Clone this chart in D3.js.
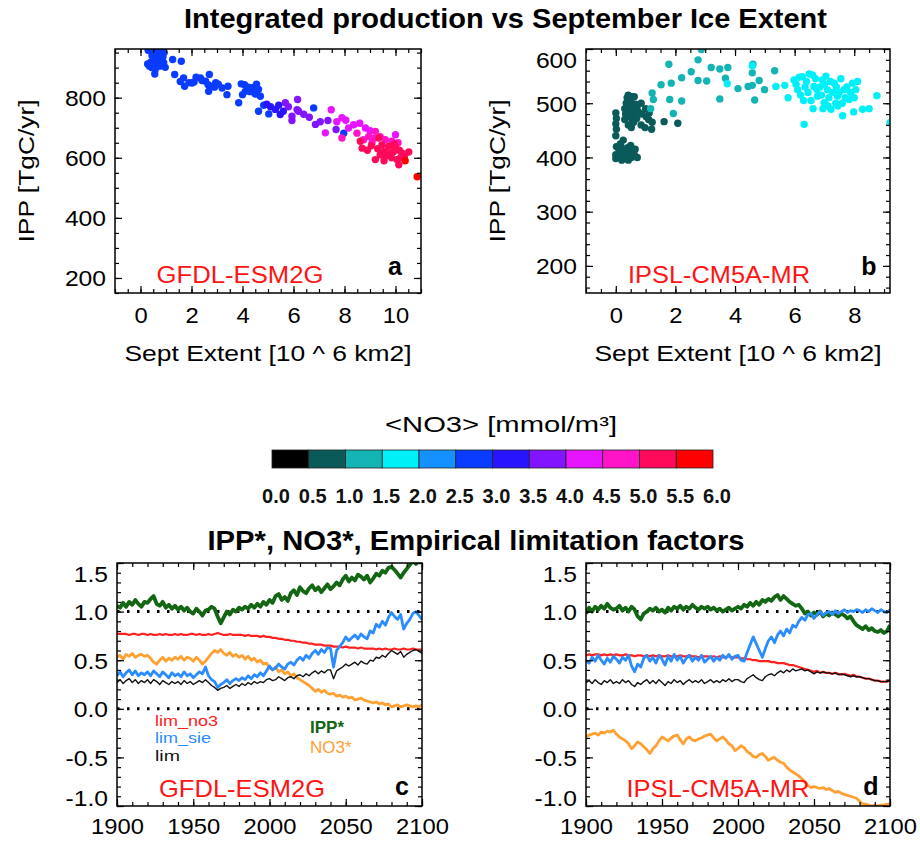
<!DOCTYPE html>
<html><head><meta charset="utf-8">
<script src="https://cdn.jsdelivr.net/npm/d3@7"></script>
<style>
body{margin:0;background:#fff;}
svg{display:block;font-family:"Liberation Sans",Arial,Helvetica,sans-serif;}
</style></head><body>
<svg id="chart" width="920" height="843"></svg>
<script>
// ---------------- DATA ----------------
const no3Bins = [0.0,0.5,1.0,1.5,2.0,2.5,3.0,3.5,4.0,4.5,5.0,5.5,6.0];
const no3Colors = ["#000000","#0a5a5a","#14b4b4","#00f0f8","#1490ff","#0a3cff","#2814ff","#8214ff","#e614ff","#ff14c8","#ff0a5a","#ff0000"];

// [Sept extent (10^6 km2), IPP (TgC/yr), <NO3> (mmol/m3)]
const gfdlScatter = [
 [0.30,958,2.7],[0.42,955,2.7],[0.55,960,2.7],[0.62,952,2.7],[0.72,957,2.7],[0.84,958,2.7],[0.93,950,2.7],
 [0.28,912,2.7],[0.35,905,2.7],[0.40,918,2.7],[0.45,900,2.7],[0.50,925,2.7],[0.55,910,2.7],[0.58,895,2.7],
 [0.65,927,2.7],[0.70,915,2.7],[0.75,905,2.7],[0.78,932,2.7],[0.85,912,2.7],[0.91,916,2.7],[0.97,901,2.7],
 [0.56,879,2.7],[0.45,940,2.7],[0.68,940,2.7],[0.88,935,2.7],
 [1.26,927,2.7],[1.60,921,2.7],[1.34,877,2.7],[1.56,854,2.7],[1.69,866,2.7],[1.73,838,2.7],[2.02,849,2.7],
 [2.18,868,2.7],[2.35,866,2.7],[2.41,857,2.7],[2.70,877,2.7],[2.65,843,2.7],[2.67,821,2.7],[2.80,838,2.7],
 [2.90,835,2.7],[3.20,832,2.7],[3.43,838,2.7],[3.39,810,2.7],[3.85,783,2.7],[3.95,846,2.7],[4.08,843,2.7],
 [4.11,821,2.7],[4.24,835,2.7],[4.44,835,2.7],[4.50,812,2.7],[4.63,827,2.7],[4.70,805,2.7],[4.83,775,2.7],
 [4.63,755,2.7],[5.03,746,2.7],[2.55,855,2.7],[2.95,850,2.7],[1.90,850,2.7],[2.10,852,2.7],[3.05,845,2.7],
 [4.30,820,2.7],[4.55,845,2.7],[4.00,810,2.7],
 [5.29,761,3.2],[5.42,775,3.2],[5.48,744,3.2],[5.10,770,3.2],[5.60,755,3.2],[4.95,778,3.2],
 [5.68,783,3.7],[5.94,724,3.7],[5.94,738,3.7],[6.16,794,3.7],[6.20,755,3.7],[6.14,760,3.7],[6.62,735,3.7],
 [6.86,711,3.7],[7.35,724,3.7],[7.67,694,3.7],[6.40,745,3.7],[7.05,720,3.7],[5.80,770,3.7],
 [6.79,766,2.7],[7.97,682,2.7],
 [7.25,683,4.2],[7.48,760,4.2],[7.90,733,4.2],[8.16,699,4.2],[8.36,710,4.2],[8.82,699,4.2],[10.00,677,4.2],
 [7.70,720,4.2],[8.05,725,4.2],[8.60,715,4.2],[9.00,690,4.2],
 [7.90,666,4.7],[8.49,682,4.7],[8.95,671,4.7],[9.08,649,4.7],[9.21,688,4.7],[9.86,655,4.7],[9.40,670,4.7],
 [9.60,660,4.7],[8.75,660,4.7],[9.15,665,4.7],[10.10,650,4.7],
 [8.62,655,5.2],[9.34,666,5.2],[9.47,643,5.2],[8.69,632,5.2],[9.21,594,5.2],[9.54,621,5.2],[9.60,605,5.2],
 [9.73,638,5.2],[9.93,621,5.2],[10.06,594,5.2],[10.13,577,5.2],[10.25,616,5.2],[10.52,619,5.2],[9.30,630,5.2],
 [9.70,615,5.2],[9.85,600,5.2],[10.00,635,5.2],[10.20,600,5.2],[10.35,605,5.2],[9.40,610,5.2],[9.05,640,5.2],
 [9.95,645,5.2],[10.15,625,5.2],[8.90,625,5.2],[9.55,590,5.2],
 [10.38,590,5.7],[10.85,537,5.7]
];

const ipslScatter = [
 [0.00,398,0.7],[0.00,405,0.7],[0.02,420,0.7],[0.00,440,0.7],[0.02,452,0.7],[0.00,462,0.7],[0.02,472,0.7],[0.00,482,0.7],
 [0.12,402,0.7],[0.10,415,0.7],[0.15,425,0.7],[0.20,395,0.7],[0.22,410,0.7],[0.18,420,0.7],[0.25,432,0.7],
 [0.30,398,0.7],[0.32,405,0.7],[0.35,412,0.7],[0.30,470,0.7],[0.33,480,0.7],[0.30,490,0.7],[0.35,500,0.7],[0.38,510,0.7],
 [0.42,395,0.7],[0.45,408,0.7],[0.40,418,0.7],[0.42,460,0.7],[0.45,475,0.7],[0.40,485,0.7],[0.44,495,0.7],[0.46,505,0.7],[0.42,515,0.7],
 [0.52,400,0.7],[0.55,410,0.7],[0.50,422,0.7],[0.52,455,0.7],[0.55,470,0.7],[0.50,480,0.7],[0.55,490,0.7],[0.52,500,0.7],[0.56,512,0.7],
 [0.62,405,0.7],[0.65,415,0.7],[0.60,465,0.7],[0.63,478,0.7],[0.60,488,0.7],[0.66,498,0.7],[0.62,512,0.7],
 [0.72,400,0.7],[0.70,472,0.7],[0.75,485,0.7],[0.72,495,0.7],
 [0.85,460,0.7],[0.88,480,0.7],[0.85,500,0.7],[1.00,490,0.7],[1.02,475,0.7],[0.98,455,0.7],[1.10,470,0.7],[1.12,482,0.7],
 [1.20,452,0.7],[1.22,465,0.7],[1.62,466,0.7],[2.08,463,0.7],
 [1.22,519,1.2],[1.26,507,1.2],[1.17,490,1.2],[1.52,534,1.2],[1.78,572,1.2],[1.86,537,1.2],[1.81,507,1.2],[1.93,481,1.2],
 [2.21,547,1.2],[2.21,504,1.2],[2.53,558,1.2],[2.76,580,1.2],[2.87,599,1.2],[2.76,542,1.2],[3.05,541,1.2],[3.20,566,1.2],
 [3.49,563,1.2],[3.76,566,1.2],[3.68,546,1.2],[3.49,508,1.2],[4.10,527,1.2],[4.44,531,1.2],[4.58,556,1.2],[4.58,533,1.2],
 [4.81,542,1.2],[4.66,506,1.2],[4.99,525,1.2],[5.33,560,1.2],[4.60,572,1.2],
 [3.74,536,1.7],[4.58,569,1.7],[5.37,531,1.7],[5.67,533,1.7],[5.78,510,1.7],[5.98,543,1.7],[6.10,525,1.7],[6.26,549,1.7],
 [6.32,461,1.7],[6.49,554,1.7],[6.60,552,1.7],[6.65,531,1.7],[6.77,513,1.7],[6.93,543,1.7],[6.99,501,1.7],[7.10,525,1.7],
 [7.22,489,1.7],[7.33,537,1.7],[7.44,513,1.7],[7.61,477,1.7],[7.66,525,1.7],[7.83,507,1.7],[7.94,537,1.7],[7.98,484,1.7],
 [8.11,540,1.7],[8.28,489,1.7],[8.50,490,1.7],[8.76,514,1.7],[9.20,464,1.7],
 [6.05,535,1.7],[6.15,548,1.7],[6.20,515,1.7],[6.35,530,1.7],[6.40,540,1.7],[6.45,520,1.7],[6.55,505,1.7],[6.70,545,1.7],
 [6.75,525,1.7],[6.85,530,1.7],[6.90,515,1.7],[7.00,535,1.7],[7.05,550,1.7],[7.15,510,1.7],[7.20,540,1.7],[7.28,520,1.7],
 [7.38,500,1.7],[7.40,530,1.7],[7.50,520,1.7],[7.55,545,1.7],[7.70,510,1.7],[7.75,530,1.7],[7.88,520,1.7],[8.00,510,1.7],
 [7.12,495,1.7],[6.95,490,1.7],[7.45,495,1.7],[8.05,525,1.7],[7.60,500,1.7],[6.62,490,1.7],[6.30,505,1.7]
];

// time series, every 2 years 1900..2100
const years = d3.range(1900, 2101, 2);

const gfdlIPP = [1.06,1.04,1.09,1.05,1.10,1.07,1.12,1.08,1.05,1.10, 1.09,1.13,1.16,1.08,1.06,1.10,1.04,1.07,1.03,1.06,
 1.02,1.05,1.01,1.04,1.00,0.98,1.03,1.00,0.96,1.01, 1.02,1.05,1.03,0.95,0.88,0.94,1.00,0.97,1.02,1.00,
 1.04,1.02,1.05,1.03,1.07,1.04,1.08,1.05,1.10,1.07, 1.12,1.09,1.16,1.18,1.12,1.15,1.11,1.19,1.22,1.17,
 1.25,1.21,1.19,1.24,1.27,1.22,1.25,1.20,1.24,1.28, 1.23,1.26,1.30,1.27,1.33,1.37,1.31,1.35,1.32,1.38,
 1.36,1.33,1.37,1.30,1.34,1.39,1.37,1.42,1.40,1.45, 1.46,1.43,1.39,1.35,1.40,1.44,1.48,1.52,1.49,1.53, 1.50];
const gfdlLimNO3 = [0.77,0.77,0.77,0.77,0.76,0.77,0.77,0.76,0.77,0.77, 0.76,0.77,0.76,0.76,0.77,0.76,0.77,0.76,0.76,0.77,
 0.76,0.77,0.76,0.76,0.77,0.77,0.76,0.77,0.76,0.76, 0.77,0.76,0.77,0.78,0.77,0.76,0.76,0.77,0.76,0.76,
 0.76,0.76,0.75,0.76,0.75,0.75,0.75,0.74,0.75,0.74, 0.74,0.73,0.73,0.72,0.72,0.71,0.71,0.70,0.70,0.69,
 0.69,0.68,0.68,0.67,0.67,0.66,0.66,0.66,0.65,0.65, 0.65,0.64,0.64,0.64,0.63,0.64,0.63,0.63,0.63,0.62,
 0.63,0.62,0.62,0.62,0.62,0.61,0.62,0.61,0.62,0.61, 0.61,0.62,0.61,0.61,0.62,0.61,0.61,0.62,0.61,0.61, 0.61];
const gfdlLimSIE = [0.34,0.38,0.33,0.37,0.40,0.35,0.39,0.34,0.37,0.35, 0.38,0.34,0.39,0.36,0.33,0.38,0.35,0.32,0.37,0.34,
 0.36,0.33,0.38,0.34,0.36,0.32,0.35,0.38,0.36,0.43, 0.34,0.30,0.28,0.22,0.25,0.27,0.30,0.26,0.29,0.31,
 0.29,0.32,0.30,0.34,0.31,0.35,0.33,0.37,0.34,0.39, 0.44,0.40,0.42,0.46,0.43,0.41,0.46,0.48,0.45,0.50,
 0.53,0.50,0.55,0.52,0.57,0.60,0.56,0.61,0.58,0.63, 0.62,0.43,0.60,0.64,0.68,0.74,0.70,0.73,0.76,0.72,
 0.77,0.74,0.72,0.80,0.78,0.87,0.84,0.90,0.86,0.94, 0.99,0.95,0.92,0.97,0.82,0.88,0.92,0.98,1.00,0.96, 0.92];
const gfdlLim = [0.27,0.30,0.26,0.29,0.31,0.27,0.30,0.26,0.29,0.27, 0.30,0.26,0.30,0.28,0.25,0.29,0.27,0.25,0.28,0.26,
 0.28,0.25,0.29,0.26,0.28,0.25,0.27,0.29,0.27,0.30, 0.27,0.24,0.22,0.19,0.21,0.22,0.24,0.21,0.23,0.25,
 0.23,0.26,0.24,0.27,0.25,0.28,0.26,0.28,0.27,0.30, 0.31,0.29,0.30,0.33,0.31,0.29,0.32,0.33,0.31,0.34,
 0.35,0.33,0.36,0.34,0.37,0.39,0.36,0.39,0.37,0.40, 0.40,0.31,0.39,0.41,0.43,0.46,0.44,0.46,0.48,0.45,
 0.49,0.47,0.46,0.50,0.49,0.53,0.52,0.55,0.53,0.57, 0.60,0.58,0.56,0.59,0.53,0.56,0.58,0.60,0.61,0.59, 0.57];
const gfdlNO3 = [0.53,0.55,0.51,0.56,0.54,0.57,0.53,0.55,0.56,0.54, 0.55,0.52,0.48,0.46,0.50,0.53,0.49,0.52,0.50,0.53,
 0.51,0.54,0.50,0.53,0.52,0.49,0.53,0.50,0.46,0.49, 0.53,0.57,0.60,0.58,0.61,0.57,0.55,0.58,0.54,0.56,
 0.53,0.55,0.51,0.54,0.50,0.52,0.48,0.50,0.46,0.47, 0.42,0.40,0.43,0.38,0.40,0.36,0.38,0.34,0.36,0.32,
 0.30,0.28,0.26,0.24,0.21,0.18,0.20,0.17,0.19,0.16, 0.15,0.16,0.13,0.14,0.12,0.13,0.11,0.12,0.09,0.10,
 0.11,0.09,0.08,0.07,0.06,0.07,0.05,0.06,0.04,0.05, 0.02,0.03,0.04,0.02,0.03,0.04,0.03,0.02,0.03,0.02, 0.04];

const ipslIPP = [0.98,1.04,1.00,1.05,1.02,1.06,1.03,1.08,1.04,1.02, 1.03,1.06,1.01,1.04,1.00,1.05,1.02,0.95,0.92,0.98,
 1.00,1.03,1.01,1.04,1.00,1.02,0.99,1.04,1.01,1.05, 1.03,1.06,1.02,1.05,1.03,1.07,1.04,1.02,1.05,1.03,
 1.05,1.02,1.04,1.01,1.03,1.00,1.02,1.04,1.01,1.03, 1.05,1.03,1.07,1.05,1.09,1.06,1.10,1.07,1.12,1.10,
 1.13,1.11,1.15,1.17,1.12,1.16,1.13,1.10,1.08,1.06, 1.07,1.03,0.98,1.00,0.96,0.99,0.97,1.00,0.95,0.98,
 0.96,0.99,0.97,0.95,0.98,0.96,0.93,0.95,0.90,0.86, 0.84,0.82,0.85,0.81,0.83,0.80,0.79,0.81,0.78,0.80, 0.86];
const ipslLimSIE = [0.50,0.47,0.53,0.49,0.55,0.50,0.46,0.52,0.48,0.54, 0.51,0.47,0.53,0.50,0.55,0.44,0.38,0.46,0.43,0.52,
 0.55,0.49,0.53,0.47,0.55,0.51,0.45,0.54,0.49,0.56, 0.50,0.54,0.47,0.52,0.55,0.49,0.53,0.50,0.55,0.48,
 0.51,0.54,0.49,0.53,0.50,0.55,0.52,0.56,0.51,0.54, 0.55,0.50,0.49,0.58,0.66,0.74,0.67,0.60,0.53,0.62,
 0.70,0.74,0.68,0.76,0.80,0.75,0.82,0.78,0.86,0.84, 0.90,0.94,0.91,0.97,0.98,0.93,0.97,1.00,0.96,0.99,
 1.00,0.97,1.01,0.98,1.00,1.02,0.99,1.01,1.00,1.02, 1.01,0.99,1.02,1.00,1.03,1.01,0.99,1.02,1.00,0.99, 1.02];
const ipslLimNO3 = [0.55,0.56,0.55,0.56,0.56,0.55,0.56,0.55,0.56,0.55, 0.56,0.55,0.55,0.56,0.55,0.55,0.54,0.55,0.55,0.54,
 0.55,0.54,0.55,0.54,0.55,0.54,0.54,0.55,0.54,0.54, 0.54,0.55,0.54,0.54,0.55,0.54,0.54,0.53,0.54,0.54,
 0.54,0.53,0.54,0.53,0.54,0.53,0.53,0.54,0.53,0.53, 0.53,0.52,0.52,0.51,0.51,0.50,0.50,0.49,0.49,0.49,
 0.49,0.48,0.48,0.47,0.47,0.47,0.46,0.45,0.45,0.44, 0.43,0.42,0.41,0.40,0.39,0.38,0.39,0.37,0.38,0.37,
 0.37,0.36,0.37,0.36,0.35,0.36,0.35,0.34,0.35,0.33, 0.33,0.32,0.31,0.31,0.30,0.29,0.29,0.28,0.28,0.28, 0.29];
const ipslLim = [0.27,0.29,0.26,0.30,0.27,0.25,0.29,0.27,0.30,0.26, 0.28,0.26,0.30,0.27,0.29,0.25,0.23,0.27,0.25,0.28,
 0.30,0.26,0.29,0.26,0.30,0.27,0.24,0.28,0.26,0.30, 0.27,0.29,0.25,0.28,0.30,0.27,0.29,0.27,0.30,0.26,
 0.28,0.30,0.27,0.29,0.27,0.30,0.28,0.31,0.28,0.30, 0.30,0.28,0.27,0.31,0.33,0.35,0.32,0.30,0.29,0.33,
 0.35,0.36,0.34,0.37,0.39,0.37,0.40,0.38,0.41,0.39, 0.40,0.41,0.39,0.40,0.38,0.36,0.38,0.37,0.38,0.37,
 0.37,0.36,0.37,0.35,0.36,0.35,0.34,0.33,0.34,0.33, 0.33,0.32,0.31,0.31,0.30,0.29,0.29,0.28,0.28,0.28, 0.29];
const ipslNO3 = [-0.29,-0.27,-0.26,-0.25,-0.27,-0.24,-0.25,-0.23,-0.24,-0.22, -0.26,-0.29,-0.31,-0.33,-0.36,-0.41,-0.38,-0.34,-0.36,-0.39,
 -0.42,-0.46,-0.41,-0.38,-0.33,-0.29,-0.31,-0.33,-0.30,-0.28, -0.27,-0.32,-0.36,-0.31,-0.29,-0.32,-0.33,-0.31,-0.30,-0.28,
 -0.27,-0.26,-0.30,-0.33,-0.31,-0.29,-0.32,-0.36,-0.38,-0.43, -0.41,-0.38,-0.40,-0.44,-0.46,-0.49,-0.50,-0.47,-0.46,-0.49,
 -0.53,-0.51,-0.50,-0.53,-0.55,-0.56,-0.60,-0.63,-0.65,-0.67, -0.69,-0.72,-0.75,-0.79,-0.81,-0.80,-0.81,-0.82,-0.81,-0.83,
 -0.82,-0.84,-0.86,-0.85,-0.87,-0.88,-0.89,-0.90,-0.91,-0.92, -0.95,-0.98,-0.98,-0.99,-1.00,-0.99,-1.00,-0.99,-0.99,-0.98, -0.98];

const seriesNames = ["IPP*","NO3*","lim_no3","lim_sie","lim"];
const seriesColors = {"IPP*":"#136613","NO3*":"#ffa033","lim_no3":"#ff2020","lim_sie":"#2a8cff","lim":"#111111"};

// ---------------- DRAWING ----------------
const svg = d3.select("#chart");
const colorScale = d3.scaleThreshold().domain(no3Bins.slice(1,-1)).range(no3Colors);
const fmtHyphen = f => (d => f(d).replace("\u2212","-"));

function stretch(sel, k){
  sel.each(function(){
    const L = this.getComputedTextLength();
    if (L > 0) d3.select(this).attr("textLength", L*k).attr("lengthAdjust","spacingAndGlyphs");
  });
}
function label(g, txt, x, y, o){
  const t = g.append("text").attr("x",x).attr("y",y).text(txt)
    .attr("font-size",o.size).attr("fill",o.fill||"#000")
    .attr("text-anchor",o.anchor||"middle")
    .attr("font-weight",o.bold?"bold":"normal");
  if (o.len) t.attr("textLength",o.len).attr("lengthAdjust","spacingAndGlyphs");
  if (o.transform) t.attr("transform",o.transform);
  return t;
}

let clipId = 0;
function panel(o){
  const g = svg.append("g");
  const x = d3.scaleLinear().domain(o.xDomain).range([o.left,o.right]);
  const y = d3.scaleLinear().domain(o.yDomain).range([o.bottom,o.top]);
  const id = "clip"+(clipId++);
  g.append("clipPath").attr("id",id).append("rect")
    .attr("x",o.left).attr("y",o.top).attr("width",o.right-o.left).attr("height",o.bottom-o.top);
  const plot = g.append("g").attr("clip-path",`url(#${id})`);

  const clean = s => { s.select(".domain").remove(); s.attr("font-size",null).attr("font-family",null);
    s.selectAll("line").attr("stroke-width",1.2); };
  g.append("g").attr("transform",`translate(0,${o.bottom})`).call(d3.axisBottom(x).tickValues(o.xMinor).tickSize(-4).tickFormat("")).call(clean);
  g.append("g").attr("transform",`translate(0,${o.top})`).call(d3.axisTop(x).tickValues(o.xMinor).tickSize(-4).tickFormat("")).call(clean);
  g.append("g").attr("transform",`translate(${o.left},0)`).call(d3.axisLeft(y).tickValues(o.yMinor).tickSize(-4).tickFormat("")).call(clean);
  g.append("g").attr("transform",`translate(${o.right},0)`).call(d3.axisRight(y).tickValues(o.yMinor).tickSize(-4).tickFormat("")).call(clean);
  g.append("g").attr("transform",`translate(0,${o.top})`).call(d3.axisTop(x).tickValues(o.xMajor).tickSize(-7).tickFormat("")).call(clean);
  g.append("g").attr("transform",`translate(${o.right},0)`).call(d3.axisRight(y).tickValues(o.yMajor).tickSize(-7).tickFormat("")).call(clean);
  const xa = g.append("g").attr("transform",`translate(0,${o.bottom})`)
    .call(d3.axisBottom(x).tickValues(o.xMajor).tickSize(-7).tickFormat(o.xFmt)).call(clean);
  xa.selectAll("text").attr("y",o.xLabelDy).attr("dy",null).attr("font-size",22).attr("fill","#000");
  stretch(xa.selectAll("text"),1.08);
  const ya = g.append("g").attr("transform",`translate(${o.left},0)`)
    .call(d3.axisLeft(y).tickValues(o.yMajor).tickSize(-7).tickPadding(9).tickFormat(o.yFmt)).call(clean);
  ya.selectAll("text").attr("font-size",22).attr("fill","#000").attr("dy","0.36em")
    .attr("transform", d => {
      const py = y(d);
      if (py - o.top < 4) return "translate(0,11)";
      if (o.bottom - py < 4) return "translate(0,-8)";
      return null;
    });
  stretch(ya.selectAll("text"),1.12);
  g.append("rect").attr("x",o.left).attr("y",o.top).attr("width",o.right-o.left).attr("height",o.bottom-o.top)
    .attr("fill","none").attr("stroke","#000").attr("stroke-width",1.5);
  return {g, plot, x, y};
}

// Titles
label(svg,"Integrated production vs September Ice Extent",505.5,28,{size:27,bold:true,len:643});
label(svg,"IPP*, NO3*, Empirical limitation factors",476,550,{size:27,bold:true,len:537});

// ---- scatter panels ----
function scatterPanel(o, pts, model, letter, modelX, letterX){
  const p = panel(Object.assign({
    xFmt: d3.format("d"), yFmt: d3.format("d"), xLabelDy: 30
  }, o));
  p.plot.selectAll("circle").data(pts).join("circle")
    .attr("cx", d => p.x(d[0])).attr("cy", d => p.y(d[1])).attr("r",3.7)
    .attr("fill", d => colorScale(d[2]));
  label(p.g, model, modelX, 283, {size:23, fill:"#ff1414", len: model.length>10?182:167});
  label(p.g, letter, letterX, 275, {size:25, bold:true});
  const cx = (o.left+o.right)/2;
  label(p.g, "Sept Extent [10 ^ 6 km2]", cx, 361, {size:22, len:287});
  label(p.g, "IPP [TgC/yr]", 0, 0, {size:22, len:143, transform:`translate(${o.left-81},${(o.top+o.bottom)/2}) rotate(-90)`});
}

scatterPanel({left:115,right:421,top:49,bottom:293,xDomain:[-1,11],yDomain:[150,962],
  xMajor:[0,2,4,6,8,10], xMinor:d3.range(-1,11.01,0.5),
  yMajor:[200,400,600,800], yMinor:d3.range(150,962,50)}, gfdlScatter, "GFDL-ESM2G","a",240,395);
scatterPanel({left:586,right:890,top:49,bottom:293,xDomain:[-1,9.2],yDomain:[150,600],
  xMajor:[0,2,4,6,8], xMinor:d3.range(-1,9.21,0.5),
  yMajor:[200,300,400,500,600], yMinor:d3.range(160,600,20)}, ipslScatter, "IPSL-CM5A-MR","b",719,869);

// ---- colorbar ----
const cb = d3.scaleLinear().domain([0,6]).range([272,713]);
const cbG = svg.append("g");
label(cbG, "<NO3> [mmol/m³]", 501, 432, {size:22, len:232});
cbG.selectAll("rect").data(no3Colors).join("rect")
  .attr("x",(d,i)=>cb(no3Bins[i])).attr("y",450)
  .attr("width",(d,i)=>cb(no3Bins[i+1])-cb(no3Bins[i])).attr("height",18)
  .attr("fill",d=>d).attr("stroke","#222").attr("stroke-width",0.8);
cbG.selectAll("text.cbl").data(no3Bins).join("text").attr("class","cbl")
  .attr("x",d=>cb(d)+4).attr("y",503).attr("text-anchor","middle")
  .attr("font-size",20).attr("font-weight","bold").attr("fill","#111")
  .text(d3.format(".1f"));

// ---- time-series panels ----
function tsPanel(o, series, model, letter, modelX, letterX, legend){
  const p = panel(Object.assign({
    xDomain:[1900,2100], yDomain:[-1,1.5],
    xMajor:[1900,1950,2000,2050,2100], xMinor:d3.range(1900,2101,10),
    yMajor:[-1,-0.5,0,0.5,1,1.5], yMinor:d3.range(-1,1.51,0.1),
    xFmt:d3.format("d"), yFmt:fmtHyphen(d3.format(".1f")), xLabelDy:28
  }, o));
  [0,1].forEach(v => p.plot.append("line")
    .attr("x1",p.x(1900)).attr("x2",p.x(2100)).attr("y1",p.y(v)).attr("y2",p.y(v))
    .attr("stroke","#000").attr("stroke-width",3).attr("stroke-dasharray","2.5,7.5"));
  const widths = {"IPP*":3.8,"NO3*":2.8,"lim_no3":2.2,"lim_sie":2.8,"lim":1.4};
  seriesNames.forEach(name => {
    const vals = series[name];
    const line = d3.line().x((d,i)=>p.x(years[i])).y(d=>p.y(d));
    p.plot.append("path").datum(vals).attr("d",line).attr("fill","none")
      .attr("stroke",seriesColors[name]).attr("stroke-width",widths[name]).attr("stroke-linejoin","round");
  });
  label(p.g, model, modelX, 797, {size:24, fill:"#ff1414", len: model.length>10?183:166});
  label(p.g, letter, letterX, 795, {size:25, bold:true});
  if (legend){
    label(p.g,"lim_no3",155,725.5,{size:15,anchor:"start",fill:seriesColors["lim_no3"],len:63});
    label(p.g,"lim_sie",155,743,{size:15,anchor:"start",fill:seriesColors["lim_sie"],len:56});
    label(p.g,"lim",155,760.5,{size:15,anchor:"start",fill:seriesColors["lim"],len:25});
    label(p.g,"IPP*",310,733,{size:17,anchor:"start",bold:true,fill:seriesColors["IPP*"]});
    label(p.g,"NO3*",310,753,{size:17,anchor:"start",fill:seriesColors["NO3*"]});
  }
}
tsPanel({left:117,right:422,top:563,bottom:806},
  {"IPP*":gfdlIPP,"NO3*":gfdlNO3,"lim_no3":gfdlLimNO3,"lim_sie":gfdlLimSIE,"lim":gfdlLim},
  "GFDL-ESM2G","c",242,402,true);
tsPanel({left:586,right:890,top:563,bottom:806},
  {"IPP*":ipslIPP,"NO3*":ipslNO3,"lim_no3":ipslLimNO3,"lim_sie":ipslLimSIE,"lim":ipslLim},
  "IPSL-CM5A-MR","d",718,871,false);
</script>
</body></html>
